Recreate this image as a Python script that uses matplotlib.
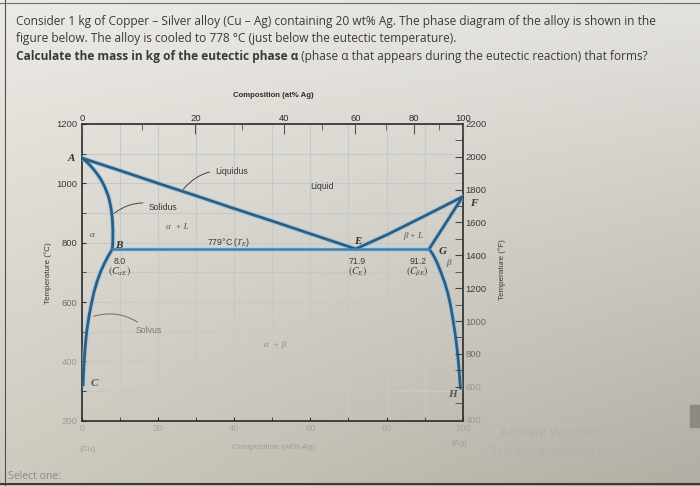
import numpy as np
import matplotlib
matplotlib.use("Agg")
import matplotlib.pyplot as plt

plt.rcParams['mathtext.fontset'] = 'stix'

# question text
question_1 = "Consider 1 kg of Copper \u2013 Silver alloy (Cu \u2013 Ag) containing 20 wt% Ag. The phase diagram of the alloy is shown in the"
question_2 = "figure below. The alloy is cooled to 778 \u00b0C (just below the eutectic temperature)."
question_3a = "Calculate the mass in kg of the eutectic phase \u03b1"
question_3b = " (phase \u03b1 that appears during the eutectic reaction) that forms?"

# phase boundaries (wt% Ag, deg C)
liq_a_x = [0, 10, 20, 30, 40, 50, 60, 71.9]
liq_a_t = [1085, 1043, 1000, 958, 915, 873, 830, 779]
sol_a_x = [0, 1, 2, 3, 4, 5, 6, 7, 7.6, 8.0, 8.15, 8.1, 8.0]
sol_a_t = [1085, 1075, 1063, 1048, 1032, 1013, 988, 955, 920, 880, 840, 800, 779]
solv_a_x = [8.0, 7.0, 6.0, 5.0, 4.0, 3.2, 2.5, 1.9, 1.3, 0.9, 0.6, 0.4, 0.3]
solv_a_t = [779, 757, 733, 705, 670, 635, 595, 555, 505, 455, 405, 355, 320]
liq_b_x = [71.9, 80, 90, 100]
liq_b_t = [779, 826, 890, 955]
sol_b_x = [91.2, 93, 95, 97, 99, 100]
sol_b_t = [779, 815, 855, 895, 935, 955]
solv_b_x = [91.2, 92.2, 93.2, 94.3, 95.3, 96.1, 96.8, 97.4, 98.0, 98.5, 98.9, 99.2, 99.4]
solv_b_t = [779, 760, 735, 700, 665, 630, 590, 545, 495, 445, 395, 345, 310]
eut_x = [8.0, 91.2]
eut_t = [779, 779]

wt_ticks = [0, 20, 40, 60, 80, 100]
at_ticks = [0, 20, 40, 60, 80, 100]
at_minor = [10, 30, 50, 70, 90]
degc_ticks = [200, 400, 600, 800, 1000, 1200]
degf_ticks = [400, 600, 800, 1000, 1200, 1400, 1600, 1800, 2000, 2200]


def at_to_wt(a):
    a = np.asarray(a, dtype=float)
    return a * 107.87 / (a * 107.87 + (100 - a) * 63.55) * 100


def f_to_c(f):
    return (np.asarray(f, dtype=float) - 32) * 5 / 9


fig = plt.figure(figsize=(7, 4.86), dpi=100)

# photo-like background
bg = fig.add_axes([0, 0, 1, 1], zorder=-10)
u = np.linspace(0, 1, 200)
v = np.linspace(0, 1, 140)
U, V = np.meshgrid(u, v)
tl = np.array([236, 234, 229]); tr = np.array([228, 226, 221])
bl = np.array([206, 202, 191]); br = np.array([178, 174, 164])
img = ((1 - U)[..., None] * (1 - V)[..., None] * tl + U[..., None] * (1 - V)[..., None] * tr
       + (1 - U)[..., None] * V[..., None] * bl + U[..., None] * V[..., None] * br) / 255
bg.imshow(img, extent=[0, 1, 0, 1], aspect='auto')
bg.set_xlim(0, 1); bg.set_ylim(0, 1)
bg.axis('off')

qfont = dict(family='Open Sans', fontsize=8.6, color='#3a3a3a')
fig.text(0.023, 0.955, question_1, ha='left', va='center', **qfont)
fig.text(0.023, 0.920, question_2, ha='left', va='center', **qfont)
bold = fig.text(0.023, 0.883, question_3a, ha='left', va='center', weight='bold', **qfont)
bg.annotate(question_3b, xy=(1, 0.5), xycoords=bold, ha='left', va='center', **qfont)
fig.text(0.012, 0.008, "Select one:", ha='left', va='bottom', family='Open Sans', fontsize=7.5, color='#8c8a85')
fig.text(0.714, 0.109, "Activate Windows", ha='left', va='center', family='Open Sans', fontsize=9, color='#b3b0a8')
fig.text(0.700, 0.072, "Go to Settings to activate Windows.", ha='left', va='center', family='Open Sans', fontsize=6.5, color='#b3b0a8')
bg.plot([0.007, 0.007], [0, 1], color='#55524d', lw=0.8)
bg.plot([0, 1], [0.994, 0.994], color='#6e6b66', lw=0.8)
bg.plot([0, 1], [0.004, 0.004], color='#3c3a37', lw=1.5)
bg.add_patch(plt.Rectangle((0.985, 0.122), 0.02, 0.045, color='#8d8a85'))

ax = fig.add_axes([0.117, 0.134, 0.544, 0.611])
ax.set_facecolor('none')
ax.set_xlim(0, 100)
ax.set_ylim(200, 1200)

# grid
ax.set_xticks(range(0, 101, 10), minor=True)
ax.set_yticks(range(200, 1201, 100), minor=True)
ax.grid(which='both', color='#c3cacc', lw=0.8)
ax.set_axisbelow(True)

ax.set_xticks(wt_ticks)
ax.set_yticks(degc_ticks)
ax.tick_params(which='both', direction='in', length=3, labelsize=6.8, color='#333333')
ax.tick_params(axis='x', labelcolor='#a9a69e', pad=2)
ax.tick_params(axis='y', pad=3)
for lab, val in zip(ax.get_yticklabels(), degc_ticks):
    lab.set_color('#3a3a3a' if val >= 800 else ('#6d6b66' if val == 600 else '#9d9a93'))
    lab.set_family('Liberation Sans')
for lab in ax.get_xticklabels():
    lab.set_family('Liberation Sans')
for s in ax.spines.values():
    s.set_color('#2b2b2b'); s.set_linewidth(1.2)

top = ax.twiny()
top.set_xlim(0, 100)
top.set_xticks(at_to_wt(at_ticks))
top.set_xticklabels([str(a) for a in at_ticks], family='Liberation Sans')
top.set_xticks(at_to_wt(at_minor), minor=True)
top.tick_params(which='major', direction='in', length=7, labelsize=6.8, pad=1, color='#555555', labelcolor='#2e2e2e')
top.tick_params(which='minor', direction='in', length=4, color='#555555')
for s in top.spines.values():
    s.set_visible(False)

right = ax.twinx()
right.set_ylim(200, 1200)
right.set_yticks(f_to_c(degf_ticks))
right.set_yticklabels([str(f) for f in degf_ticks], family='Liberation Sans')
right.set_yticks(f_to_c(np.arange(500, 2200, 200)), minor=True)
right.tick_params(which='major', direction='in', length=6, labelsize=6.8, pad=2, color='#444444')
right.tick_params(which='minor', direction='in', length=6, color='#444444')
for lab, val in zip(right.get_yticklabels(), degf_ticks):
    lab.set_color('#3a3a3a' if val >= 1200 else ('#6d6b66' if val >= 800 else '#9d9a93'))
for s in right.spines.values():
    s.set_visible(False)

# phase boundaries
curves = [(liq_a_x, liq_a_t), (sol_a_x, sol_a_t), (solv_a_x, solv_a_t),
          (liq_b_x, liq_b_t), (sol_b_x, sol_b_t), (solv_b_x, solv_b_t)]
for cx, ct in curves:
    ax.plot(cx, ct, color='#8fc3e6', lw=3.6, alpha=0.6, solid_capstyle='round', zorder=3)
    ax.plot(cx, ct, color='#2c5d82', lw=2.0, solid_capstyle='round', zorder=4)
ax.plot(eut_x, eut_t, color='#9fd0ee', lw=3.6, alpha=0.6, zorder=3)
ax.plot(eut_x, eut_t, color='#3f7fae', lw=1.8, zorder=4)

pt = dict(family=['Liberation Serif', 'DejaVu Serif'], style='italic', weight='bold', fontsize=8, color='#333333')
ax.text(-1.8, 1085, 'A', ha='right', va='center', clip_on=False, **pt)
ax.text(8.8, 790, 'B', ha='left', va='center', **pt)
ax.text(2.2, 325, 'C', ha='left', va='center', **dict(pt, color='#555555'))
ax.text(72.5, 803, 'E', ha='center', va='center', **pt)
ax.text(102.0, 932, 'F', ha='left', va='center', clip_on=False, **pt)
ax.text(94.8, 769, 'G', ha='center', va='center', **pt)
ax.text(97.4, 290, 'H', ha='center', va='center', **dict(pt, color='#555555'))

ph = dict(family=['Liberation Serif', 'DejaVu Serif'], style='italic', fontsize=6.5, color='#555555')
ax.text(2.6, 826, '\u03b1', ha='center', va='center', **ph)
ax.text(25, 853, '\u03b1  + L', ha='center', va='center', **ph)
ax.text(87, 821, '\u03b2 + L', ha='center', va='center', **ph)
ax.text(96.2, 732, '\u03b2', ha='center', va='center', **ph)
ax.text(50.7, 456, '\u03b1  + \u03b2', ha='center', va='center', **dict(ph, color='#8e8b84'))

sm = dict(family='Liberation Sans', fontsize=6.3, color='#3a3a3a')
ax.text(38.5, 800, '779\u00b0C ($T_E$)', ha='center', va='center', **sm)
ax.text(10.0, 737, '8.0', ha='center', va='center', **sm)
ax.text(10.0, 703, '$(C_{\\alpha E})$', ha='center', va='center', fontsize=7, color='#3a3a3a')
ax.text(72.3, 737, '71.9', ha='center', va='center', **sm)
ax.text(72.3, 703, '$(C_E)$', ha='center', va='center', fontsize=7, color='#3a3a3a')
ax.text(88.2, 737, '91.2', ha='center', va='center', **sm)
ax.text(88.2, 703, '$(C_{\\beta E})$', ha='center', va='center', fontsize=7, color='#3a3a3a')
ax.text(63, 988, 'Liquid', ha='center', va='center', **sm)

lead = dict(arrowstyle='-', color='#444444', lw=0.7)
ax.annotate('Liquidus', xy=(26.2, 973), xytext=(35, 1040), ha='left', va='center',
            arrowprops=dict(lead, connectionstyle='arc3,rad=0.3'), zorder=5, **sm)
ax.annotate('Solidus', xy=(7.9, 893), xytext=(17.5, 920), ha='left', va='center',
            arrowprops=dict(lead, connectionstyle='arc3,rad=0.3'), zorder=5, **sm)
ax.annotate('Solvus', xy=(2.4, 550), xytext=(14, 503), ha='left', va='center',
            arrowprops=dict(lead, connectionstyle='arc3,rad=0.3', color='#6d6b66'), zorder=5,
            **dict(sm, color='#7d7a74'))

# axis titles
fig.text(0.390, 0.804, 'Composition (at% Ag)', ha='center', va='center', family='Liberation Sans',
         weight='bold', fontsize=5.6, color='#2e2e2e')
fig.text(0.390, 0.080, 'Composition (wt% Ag)', ha='center', va='center', family='Liberation Sans',
         fontsize=6, color='#a19e96')
fig.text(0.069, 0.438, 'Temperature (\u00b0C)', ha='center', va='center', rotation=90,
         family='Liberation Sans', fontsize=5.8, color='#3a3a3a')
fig.text(0.717, 0.445, 'Temperature (\u00b0F)', ha='center', va='center', rotation=90,
         family='Liberation Sans', fontsize=5.8, color='#3a3a3a')
fig.text(0.125, 0.076, '(Cu)', ha='center', va='center', family='Liberation Sans', fontsize=6, color='#a19e96')
fig.text(0.657, 0.088, '(Ag)', ha='center', va='center', family='Liberation Sans', fontsize=6, color='#a19e96')

fig.savefig('out.png', dpi=100)
